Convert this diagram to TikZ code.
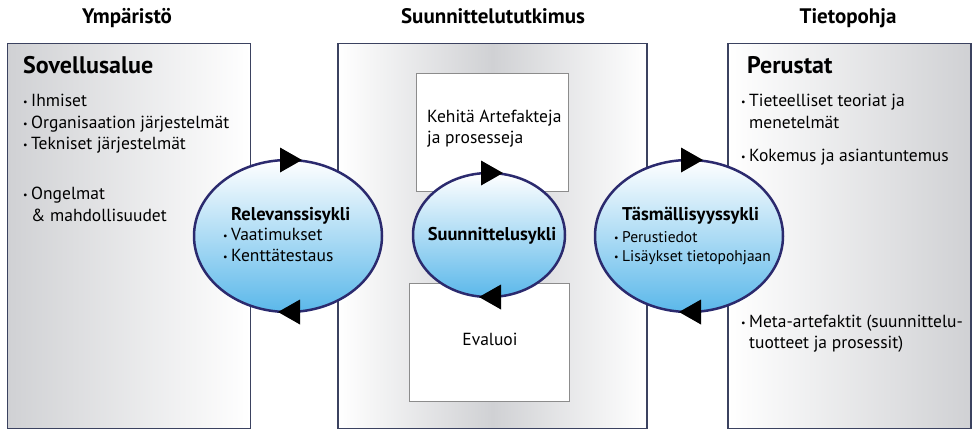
\documentclass[tikz,border=0pt]{standalone}
\usepackage{fontspec}
\setmainfont{PT Sans}
\usetikzlibrary{shapes.geometric}

\definecolor{cor_reuna}{HTML}{3B4260}
\definecolor{cor_harmaa}{HTML}{D0D1D4}
\definecolor{cor_sykli}{HTML}{2B2A6E}
\definecolor{cor_sininen}{HTML}{5BB8EA}
\definecolor{cor_kehys}{HTML}{8C8C8C}

\newcommand{\bul}{\makebox[8pt][l]{\raisebox{1pt}{\fontsize{10}{10}\selectfont\textbullet}}}

\begin{document}
\begin{tikzpicture}[x=1pt,y=-1pt]
        \tikzset{
            laatikko/.style={
                draw=cor_reuna,
                line width=1.5pt,
                inner sep=0,
                outer sep=0,
                minimum width=#1,
                minimum height=385pt
            },
            valkoinen/.style={
                draw=cor_kehys,
                fill=white,
                line width=1pt,
                inner sep=0,
                outer sep=0
            },
            sykli/.style={
                ellipse,
                draw=cor_sykli,
                line width=2.5pt,
                top color=white,
                bottom color=cor_sininen,
                inner sep=0,
                outer sep=0
            },
            otsikko/.style={anchor=base, inner sep=0, font=\bfseries\fontsize{21}{25}\selectfont},
            iso/.style={anchor=base west, inner sep=0, font=\bfseries\fontsize{24}{28}\selectfont},
            teksti/.style={anchor=base west, inner sep=0, font=\fontsize{17.5}{21}\selectfont},
            lihava/.style={anchor=base west, inner sep=0, font=\bfseries\fontsize{18.5}{22}\selectfont},
            pieni/.style={anchor=base west, inner sep=0, font=\fontsize{15.5}{18}\selectfont}
        }
        \useasboundingbox (0,0) rectangle (978,440);

        % LAATIKOT
        \node[laatikko=243pt, left color=cor_harmaa, right color=white] (sovellus) at (129,236) {};
        \node[laatikko=309pt, left color=white, right color=white, middle color=cor_harmaa] (suunnittelu) at (492.5,236) {};
        \node[laatikko=243pt, left color=white, right color=cor_harmaa] (perusta) at (849.5,236) {};

        \node[valkoinen, minimum width=152pt, minimum height=118pt] (kehita) at (492,132) {};
        \node[valkoinen, minimum width=160pt, minimum height=118pt] (evaluoi) at (489,342) {};

        % SYKLIT
        \node[sykli, minimum width=188pt, minimum height=152pt] (rel) at (288,236) {};
        \node[sykli, minimum width=152pt, minimum height=124pt] (suu) at (489,235) {};
        \node[sykli, minimum width=188pt, minimum height=152pt] (tas) at (689,236) {};

        \foreach \s in {rel,suu,tas} { %NUOLET
            \fill[black] ([shift={(-8,-12.5)}]\s.north) -- ([shift={(14,0)}]\s.north) -- ([shift={(-8,12.5)}]\s.north) -- cycle;
            \fill[black] ([shift={(12,-12.5)}]\s.south) -- ([shift={(-10,0)}]\s.south) -- ([shift={(12,12.5)}]\s.south) -- cycle;
        }

        % OTSIKOT
        \node[otsikko] (ymp) at (127,23) {Ympäristö};
        \node[otsikko] (tutk) at (493,23) {Suunnittelututkimus};
        \node[otsikko] (tieto) at (848,23) {Tietopohja};

        \node[iso] (sovt) at (23,73) {Sovellusalue};
        \node[iso] (pert) at (747,73) {Perustat};

        \foreach \y/\t [count=\i] in {106/{\bul Ihmiset}, 128/{\bul Organisaation järjestelmät}, 149/{\bul Tekniset järjestelmät}, 199/{\bul Ongelmat}, 221/{\hphantom{\bul}\& mahdollisuudet}} { %SOVELLUSALUE
            \node[teksti] (sov\i) at (23,\y) {\t};
        }
        \foreach \y/\t [count=\i] in {106/{\bul Tieteelliset teoriat ja}, 128/{\hphantom{\bul}menetelmät}, 161/{\bul Kokemus ja asiantuntemus}, 327/{\bul Meta-artefaktit (suunnittelu-}, 348/{\hphantom{\bul}tuotteet ja prosessit)}} { %PERUSTAT
            \node[teksti] (per\i) at (741,\y) {\t};
        }

        \node[lihava] (relt) at (231,220) {Relevanssisykli};
        \node[teksti] (rel1) at (223,240) {\bul Vaatimukset};
        \node[teksti] (rel2) at (223,261) {\bul Kenttätestaus};

        \node[lihava, anchor=base] (suut) at (492,240) {Suunnittelusykli};

        \node[lihava] (tast) at (622,220) {Täsmällisyyssykli};
        \node[pieni] (tas1) at (614,242) {\bul Perustiedot};
        \node[pieni] (tas2) at (614,261) {\bul Lisäykset tietopohjaan};

        \node[teksti] (keh1) at (427,122) {Kehitä Artefakteja};
        \node[teksti] (keh2) at (427,143) {ja prosesseja};
        \node[teksti, anchor=base] (eva) at (490,345) {Evaluoi};

    \end{tikzpicture}
\end{document}
